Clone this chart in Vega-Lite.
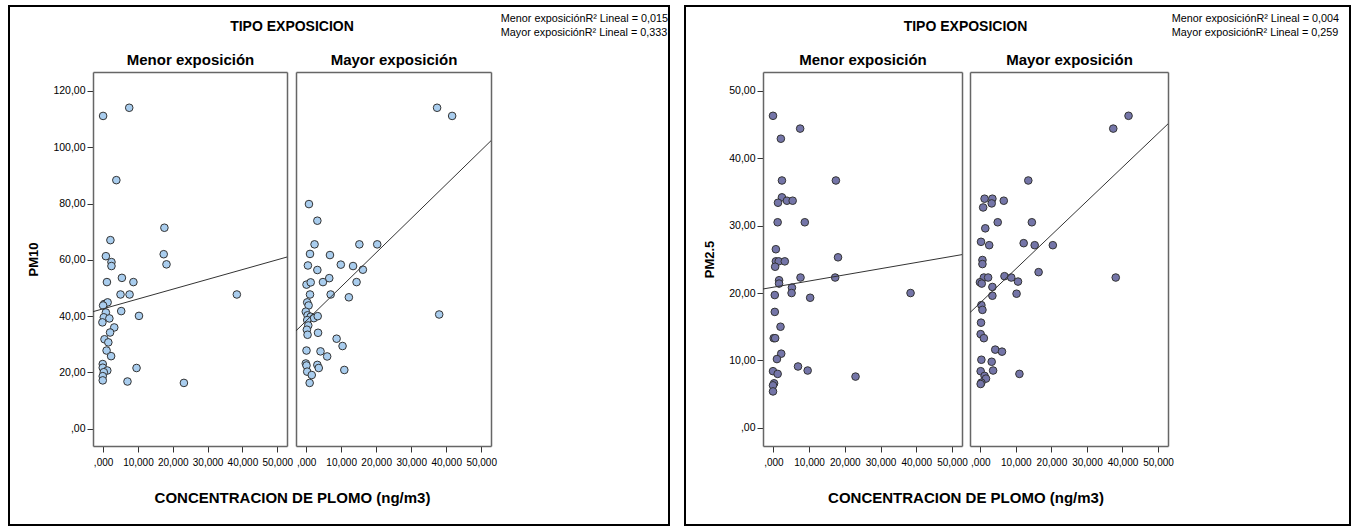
{
  "$schema": "https://vega.github.io/schema/vega-lite/v6.json",
  "padding": {"left": 8, "top": 5, "right": 0, "bottom": 0},
  "background": "white",
  "spacing": 14,
  "resolve": {"scale": {"color": "independent"}, "legend": {"color": "independent"}},
  "datasets": {
    "pm10": [
      {"grupo": "Menor exposición", "plomo": 0, "valor": 111.1},
      {"grupo": "Menor exposición", "plomo": 7.5, "valor": 114.0},
      {"grupo": "Menor exposición", "plomo": 3.8, "valor": 88.3},
      {"grupo": "Menor exposición", "plomo": 17.6, "valor": 71.4},
      {"grupo": "Menor exposición", "plomo": 2.1, "valor": 67.0},
      {"grupo": "Menor exposición", "plomo": 0.8, "valor": 61.3},
      {"grupo": "Menor exposición", "plomo": 2.4, "valor": 59.2},
      {"grupo": "Menor exposición", "plomo": 2.4, "valor": 57.8},
      {"grupo": "Menor exposición", "plomo": 17.4, "valor": 62.0},
      {"grupo": "Menor exposición", "plomo": 18.2, "valor": 58.4},
      {"grupo": "Menor exposición", "plomo": 1.1, "valor": 52.1},
      {"grupo": "Menor exposición", "plomo": 5.4, "valor": 53.6},
      {"grupo": "Menor exposición", "plomo": 8.7, "valor": 52.1},
      {"grupo": "Menor exposición", "plomo": 5.0, "valor": 47.7},
      {"grupo": "Menor exposición", "plomo": 7.6, "valor": 47.7},
      {"grupo": "Menor exposición", "plomo": 38.4, "valor": 47.7},
      {"grupo": "Menor exposición", "plomo": 0.3, "valor": 44.3},
      {"grupo": "Menor exposición", "plomo": 1.3, "valor": 44.9},
      {"grupo": "Menor exposición", "plomo": 0, "valor": 43.8},
      {"grupo": "Menor exposición", "plomo": 0.8, "valor": 41.3},
      {"grupo": "Menor exposición", "plomo": 5.2, "valor": 41.8},
      {"grupo": "Menor exposición", "plomo": 10.3, "valor": 40.1},
      {"grupo": "Menor exposición", "plomo": 0.2, "valor": 39.6},
      {"grupo": "Menor exposición", "plomo": 1.8, "valor": 39.2},
      {"grupo": "Menor exposición", "plomo": -0.2, "valor": 37.8},
      {"grupo": "Menor exposición", "plomo": 3.2, "valor": 36.0},
      {"grupo": "Menor exposición", "plomo": 2.0, "valor": 34.2},
      {"grupo": "Menor exposición", "plomo": 0.4, "valor": 31.8},
      {"grupo": "Menor exposición", "plomo": 1.5, "valor": 30.7},
      {"grupo": "Menor exposición", "plomo": 1.0, "valor": 27.8},
      {"grupo": "Menor exposición", "plomo": 2.3, "valor": 25.8},
      {"grupo": "Menor exposición", "plomo": -0.1, "valor": 23.0},
      {"grupo": "Menor exposición", "plomo": -0.1, "valor": 21.7},
      {"grupo": "Menor exposición", "plomo": 1.2, "valor": 20.7},
      {"grupo": "Menor exposición", "plomo": 0.2, "valor": 20.1},
      {"grupo": "Menor exposición", "plomo": -0.1, "valor": 18.7},
      {"grupo": "Menor exposición", "plomo": -0.1, "valor": 17.2},
      {"grupo": "Menor exposición", "plomo": 9.6, "valor": 21.6},
      {"grupo": "Menor exposición", "plomo": 7.0, "valor": 16.8},
      {"grupo": "Menor exposición", "plomo": 23.2, "valor": 16.3},
      {"grupo": "Mayor exposición", "plomo": 37.4, "valor": 114.0},
      {"grupo": "Mayor exposición", "plomo": 41.7, "valor": 111.1},
      {"grupo": "Mayor exposición", "plomo": 0.8, "valor": 79.8},
      {"grupo": "Mayor exposición", "plomo": 3.2, "valor": 73.9},
      {"grupo": "Mayor exposición", "plomo": 2.4, "valor": 65.5},
      {"grupo": "Mayor exposición", "plomo": 15.2, "valor": 65.5},
      {"grupo": "Mayor exposición", "plomo": 20.3, "valor": 65.5},
      {"grupo": "Mayor exposición", "plomo": 1.1, "valor": 62.1},
      {"grupo": "Mayor exposición", "plomo": 6.8, "valor": 61.7},
      {"grupo": "Mayor exposición", "plomo": 0.5, "valor": 58.0},
      {"grupo": "Mayor exposición", "plomo": 3.2, "valor": 56.4},
      {"grupo": "Mayor exposición", "plomo": 9.9, "valor": 58.3},
      {"grupo": "Mayor exposición", "plomo": 13.4, "valor": 57.8},
      {"grupo": "Mayor exposición", "plomo": 16.2, "valor": 56.5},
      {"grupo": "Mayor exposición", "plomo": 0.1, "valor": 51.2},
      {"grupo": "Mayor exposición", "plomo": 1.3, "valor": 52.0},
      {"grupo": "Mayor exposición", "plomo": 4.8, "valor": 52.1},
      {"grupo": "Mayor exposición", "plomo": 6.6, "valor": 53.5},
      {"grupo": "Mayor exposición", "plomo": 14.4, "valor": 52.1},
      {"grupo": "Mayor exposición", "plomo": 1.1, "valor": 47.7},
      {"grupo": "Mayor exposición", "plomo": 7.0, "valor": 47.7},
      {"grupo": "Mayor exposición", "plomo": 12.2, "valor": 46.7},
      {"grupo": "Mayor exposición", "plomo": 0.3, "valor": 44.9},
      {"grupo": "Mayor exposición", "plomo": 0.7, "valor": 43.8},
      {"grupo": "Mayor exposición", "plomo": -0.1, "valor": 41.6},
      {"grupo": "Mayor exposición", "plomo": 0.4, "valor": 40.3},
      {"grupo": "Mayor exposición", "plomo": 1.3, "valor": 39.8},
      {"grupo": "Mayor exposición", "plomo": 2.2, "valor": 39.3},
      {"grupo": "Mayor exposición", "plomo": 3.3, "valor": 40.0},
      {"grupo": "Mayor exposición", "plomo": 38.0, "valor": 40.6},
      {"grupo": "Mayor exposición", "plomo": 0.3, "valor": 38.6},
      {"grupo": "Mayor exposición", "plomo": 0.6, "valor": 36.7},
      {"grupo": "Mayor exposición", "plomo": 0.2, "valor": 35.2},
      {"grupo": "Mayor exposición", "plomo": 0.4, "valor": 33.4},
      {"grupo": "Mayor exposición", "plomo": 3.4, "valor": 34.1},
      {"grupo": "Mayor exposición", "plomo": 8.7, "valor": 32.0},
      {"grupo": "Mayor exposición", "plomo": 10.4, "valor": 29.4},
      {"grupo": "Mayor exposición", "plomo": 0.1, "valor": 27.8},
      {"grupo": "Mayor exposición", "plomo": 4.1, "valor": 27.5},
      {"grupo": "Mayor exposición", "plomo": 6.0, "valor": 25.7},
      {"grupo": "Mayor exposición", "plomo": -0.1, "valor": 23.2},
      {"grupo": "Mayor exposición", "plomo": 0.1, "valor": 22.5},
      {"grupo": "Mayor exposición", "plomo": 3.2, "valor": 22.7},
      {"grupo": "Mayor exposición", "plomo": 3.6, "valor": 21.6},
      {"grupo": "Mayor exposición", "plomo": 0.3, "valor": 20.3},
      {"grupo": "Mayor exposición", "plomo": 1.6, "valor": 19.1},
      {"grupo": "Mayor exposición", "plomo": 10.9, "valor": 20.9},
      {"grupo": "Mayor exposición", "plomo": 1.0, "valor": 16.3}
    ],
    "pm25": [
      {"grupo": "Menor exposición", "plomo": -0.1, "valor": 46.3},
      {"grupo": "Menor exposición", "plomo": 7.5, "valor": 44.4},
      {"grupo": "Menor exposición", "plomo": 2.1, "valor": 42.9},
      {"grupo": "Menor exposición", "plomo": 2.4, "valor": 36.7},
      {"grupo": "Menor exposición", "plomo": 17.5, "valor": 36.7},
      {"grupo": "Menor exposición", "plomo": 2.4, "valor": 34.2},
      {"grupo": "Menor exposición", "plomo": 1.3, "valor": 33.4},
      {"grupo": "Menor exposición", "plomo": 3.8, "valor": 33.7},
      {"grupo": "Menor exposición", "plomo": 5.4, "valor": 33.7},
      {"grupo": "Menor exposición", "plomo": 1.2, "valor": 30.5},
      {"grupo": "Menor exposición", "plomo": 8.8, "valor": 30.5},
      {"grupo": "Menor exposición", "plomo": 0.7, "valor": 26.5},
      {"grupo": "Menor exposición", "plomo": 0.7, "valor": 24.7},
      {"grupo": "Menor exposición", "plomo": 1.5, "valor": 24.7},
      {"grupo": "Menor exposición", "plomo": 3.2, "valor": 24.7},
      {"grupo": "Menor exposición", "plomo": 0.5, "valor": 23.9},
      {"grupo": "Menor exposición", "plomo": 18.1, "valor": 25.3},
      {"grupo": "Menor exposición", "plomo": 7.6, "valor": 22.3},
      {"grupo": "Menor exposición", "plomo": 17.3, "valor": 22.3},
      {"grupo": "Menor exposición", "plomo": 1.6, "valor": 21.9},
      {"grupo": "Menor exposición", "plomo": 1.6, "valor": 21.4},
      {"grupo": "Menor exposición", "plomo": 5.2, "valor": 20.8},
      {"grupo": "Menor exposición", "plomo": 5.1, "valor": 20.0},
      {"grupo": "Menor exposición", "plomo": 38.4, "valor": 20.0},
      {"grupo": "Menor exposición", "plomo": 0.4, "valor": 19.7},
      {"grupo": "Menor exposición", "plomo": 10.3, "valor": 19.3},
      {"grupo": "Menor exposición", "plomo": 0.4, "valor": 17.2},
      {"grupo": "Menor exposición", "plomo": 2.0, "valor": 15.0},
      {"grupo": "Menor exposición", "plomo": 0.1, "valor": 13.3},
      {"grupo": "Menor exposición", "plomo": 0.5, "valor": 13.3},
      {"grupo": "Menor exposición", "plomo": 2.2, "valor": 11.0},
      {"grupo": "Menor exposición", "plomo": 1.0, "valor": 10.2},
      {"grupo": "Menor exposición", "plomo": -0.1, "valor": 8.4},
      {"grupo": "Menor exposición", "plomo": 1.2, "valor": 8.0},
      {"grupo": "Menor exposición", "plomo": 6.9, "valor": 9.1},
      {"grupo": "Menor exposición", "plomo": 9.6, "valor": 8.5},
      {"grupo": "Menor exposición", "plomo": 23.0, "valor": 7.6},
      {"grupo": "Menor exposición", "plomo": 0.2, "valor": 6.6},
      {"grupo": "Menor exposición", "plomo": -0.1, "valor": 6.3},
      {"grupo": "Menor exposición", "plomo": -0.1, "valor": 5.4},
      {"grupo": "Mayor exposición", "plomo": 41.7, "valor": 46.3},
      {"grupo": "Mayor exposición", "plomo": 37.4, "valor": 44.4},
      {"grupo": "Mayor exposición", "plomo": 13.5, "valor": 36.7},
      {"grupo": "Mayor exposición", "plomo": 1.2, "valor": 34.0},
      {"grupo": "Mayor exposición", "plomo": 3.4, "valor": 34.0},
      {"grupo": "Mayor exposición", "plomo": 3.2, "valor": 33.3},
      {"grupo": "Mayor exposición", "plomo": 0.8, "valor": 32.7},
      {"grupo": "Mayor exposición", "plomo": 6.6, "valor": 33.7},
      {"grupo": "Mayor exposición", "plomo": 4.9, "valor": 30.5},
      {"grupo": "Mayor exposición", "plomo": 14.5, "valor": 30.5},
      {"grupo": "Mayor exposición", "plomo": 1.4, "valor": 29.6},
      {"grupo": "Mayor exposición", "plomo": 0.2, "valor": 27.6},
      {"grupo": "Mayor exposición", "plomo": 2.5, "valor": 27.1},
      {"grupo": "Mayor exposición", "plomo": 12.2, "valor": 27.4},
      {"grupo": "Mayor exposición", "plomo": 15.3, "valor": 27.1},
      {"grupo": "Mayor exposición", "plomo": 20.4, "valor": 27.1},
      {"grupo": "Mayor exposición", "plomo": 0.6, "valor": 24.9},
      {"grupo": "Mayor exposición", "plomo": 0.6, "valor": 24.3},
      {"grupo": "Mayor exposición", "plomo": 16.4, "valor": 23.1},
      {"grupo": "Mayor exposición", "plomo": 38.1, "valor": 22.3},
      {"grupo": "Mayor exposición", "plomo": 1.0, "valor": 22.3},
      {"grupo": "Mayor exposición", "plomo": 2.2, "valor": 22.3},
      {"grupo": "Mayor exposición", "plomo": 6.8, "valor": 22.5},
      {"grupo": "Mayor exposición", "plomo": 8.7, "valor": 22.3},
      {"grupo": "Mayor exposición", "plomo": 10.6, "valor": 21.7},
      {"grupo": "Mayor exposición", "plomo": -0.1, "valor": 21.6},
      {"grupo": "Mayor exposición", "plomo": 0.4, "valor": 21.4},
      {"grupo": "Mayor exposición", "plomo": 3.4, "valor": 20.9},
      {"grupo": "Mayor exposición", "plomo": 3.4, "valor": 19.6},
      {"grupo": "Mayor exposición", "plomo": 10.2, "valor": 19.9},
      {"grupo": "Mayor exposición", "plomo": 0.3, "valor": 18.2},
      {"grupo": "Mayor exposición", "plomo": 0.6, "valor": 17.5},
      {"grupo": "Mayor exposición", "plomo": 0.2, "valor": 15.6},
      {"grupo": "Mayor exposición", "plomo": 0.1, "valor": 13.9},
      {"grupo": "Mayor exposición", "plomo": 1.0, "valor": 13.3},
      {"grupo": "Mayor exposición", "plomo": 4.2, "valor": 11.6},
      {"grupo": "Mayor exposición", "plomo": 6.1, "valor": 11.3},
      {"grupo": "Mayor exposición", "plomo": 0.3, "valor": 10.1},
      {"grupo": "Mayor exposición", "plomo": 3.2, "valor": 9.8},
      {"grupo": "Mayor exposición", "plomo": 0.1, "valor": 8.4},
      {"grupo": "Mayor exposición", "plomo": 3.6, "valor": 8.5},
      {"grupo": "Mayor exposición", "plomo": 11.0, "valor": 8.0},
      {"grupo": "Mayor exposición", "plomo": 1.2, "valor": 7.7},
      {"grupo": "Mayor exposición", "plomo": 1.6, "valor": 7.3},
      {"grupo": "Mayor exposición", "plomo": 0.3, "valor": 6.7},
      {"grupo": "Mayor exposición", "plomo": 0.1, "valor": 6.5}
    ],
    "lineas_pm10": [
      {"grupo": "Menor exposición", "plomo": -2.9, "valor": 41.6},
      {"grupo": "Menor exposición", "plomo": 52.8, "valor": 61.0},
      {"grupo": "Mayor exposición", "plomo": -2.9, "valor": 34.8},
      {"grupo": "Mayor exposición", "plomo": 52.8, "valor": 102.3}
    ],
    "lineas_pm25": [
      {"grupo": "Menor exposición", "plomo": -2.9, "valor": 20.6},
      {"grupo": "Menor exposición", "plomo": 52.8, "valor": 25.7},
      {"grupo": "Mayor exposición", "plomo": -2.9, "valor": 17.1},
      {"grupo": "Mayor exposición", "plomo": 52.8, "valor": 45.1}
    ],
    "r2_pm10": [
      {"etiqueta": "Menor exposiciónR² Lineal = 0,015", "r2": 0.015},
      {"etiqueta": "Mayor exposiciónR² Lineal = 0,333", "r2": 0.333}
    ],
    "r2_pm25": [
      {"etiqueta": "Menor exposiciónR² Lineal = 0,004", "r2": 0.004},
      {"etiqueta": "Mayor exposiciónR² Lineal = 0,259", "r2": 0.259}
    ]
  },
  "hconcat": [
    {
      "width": 660,
      "height": 519,
      "view": {"stroke": "black", "strokeWidth": 2, "fill": "white"},
      "title": {"text": "TIPO EXPOSICION", "anchor": "middle", "frame": "group", "offset": -28, "dx": -47, "fontSize": 14, "font": "Liberation Sans", "fontWeight": "bold", "color": "black"},
      "resolve": {"scale": {"x": "independent", "y": "independent"}, "axis": {"x": "independent", "y": "independent"}},
      "layer": [
        {
          "data": {"name": "pm10"},
          "transform": [{"filter": "datum.grupo === 'Menor exposición'"}],
          "mark": {"type": "circle", "size": 58, "fill": "#a9cdee", "stroke": "#333333", "strokeWidth": 1, "opacity": 1},
          "encoding": {
            "x": {"field": "plomo", "type": "quantitative",
              "scale": {"domain": [-2.9, 52.8], "range": [84, 278], "nice": false, "zero": false},
              "axis": {"orient": "bottom", "offset": -79, "title": null, "values": [0, 10, 20, 30, 40, 50], "labelExpr": "datum.value === 0 ? ',000' : replace(format(datum.value, '.3f'), '.', ',')", "labelOverlap": false, "labelFlush": false, "labelBound": false, "tickSize": 6, "tickColor": "#333333", "domainColor": "#666666", "domainWidth": 1.5, "labelFontSize": 10, "labelPadding": 5}},
            "y": {"field": "valor", "type": "quantitative",
              "scale": {"domain": [-6.1, 126.7], "range": [440, 66], "nice": false, "zero": false},
              "axis": {"orient": "left", "offset": -84, "title": "PM10", "titleFontSize": 13, "titleFontWeight": "bold", "titlePadding": 12, "values": [0, 20, 40, 60, 80, 100, 120], "labelExpr": "datum.value === 0 ? ',00' : replace(format(datum.value, '.2f'), '.', ',')", "labelOverlap": false, "labelFlush": false, "labelBound": false, "tickSize": 6, "tickColor": "#333333", "domainColor": "#666666", "domainWidth": 1.5, "labelFontSize": 10.5, "labelPadding": 2}}
          }
        },
        {
          "data": {"name": "pm10"},
          "transform": [{"filter": "datum.grupo === 'Mayor exposición'"}],
          "mark": {"type": "circle", "size": 58, "fill": "#a9cdee", "stroke": "#333333", "strokeWidth": 1, "opacity": 1},
          "encoding": {
            "x": {"field": "plomo", "type": "quantitative",
              "scale": {"domain": [-2.9, 52.8], "range": [287, 482], "nice": false, "zero": false},
              "axis": {"orient": "bottom", "offset": -79, "title": null, "values": [0, 10, 20, 30, 40, 50], "labelExpr": "datum.value === 0 ? ',000' : replace(format(datum.value, '.3f'), '.', ',')", "labelOverlap": false, "labelFlush": false, "labelBound": false, "tickSize": 6, "tickColor": "#333333", "domainColor": "#666666", "domainWidth": 1.5, "labelFontSize": 10, "labelPadding": 5}},
            "y": {"field": "valor", "type": "quantitative",
              "scale": {"domain": [-6.1, 126.7], "range": [440, 66], "nice": false, "zero": false},
              "axis": {"orient": "left", "offset": -287, "title": null, "ticks": false, "labels": false, "domainColor": "#666666", "domainWidth": 1.5}}
          }
        },
        {
          "data": {"name": "lineas_pm10"},
          "transform": [{"filter": "datum.grupo === 'Menor exposición'"}],
          "mark": {"type": "line", "color": "#333333", "strokeWidth": 1},
          "encoding": {
            "x": {"field": "plomo", "type": "quantitative",
              "scale": {"domain": [-2.9, 52.8], "range": [84, 278], "nice": false, "zero": false},
              "axis": {"orient": "top", "offset": -66, "title": "Menor exposición", "titleFontSize": 15, "titleFontWeight": "bold", "titlePadding": 5, "ticks": false, "labels": false, "domainColor": "#666666", "domainWidth": 1.5}},
            "y": {"field": "valor", "type": "quantitative",
              "scale": {"domain": [-6.1, 126.7], "range": [440, 66], "nice": false, "zero": false},
              "axis": {"orient": "right", "offset": -382, "title": null, "ticks": false, "labels": false, "domainColor": "#666666", "domainWidth": 1.5}}
          }
        },
        {
          "data": {"name": "lineas_pm10"},
          "transform": [{"filter": "datum.grupo === 'Mayor exposición'"}],
          "mark": {"type": "line", "color": "#333333", "strokeWidth": 1},
          "encoding": {
            "x": {"field": "plomo", "type": "quantitative",
              "scale": {"domain": [-2.9, 52.8], "range": [287, 482], "nice": false, "zero": false},
              "axis": {"orient": "top", "offset": -66, "title": "Mayor exposición", "titleFontSize": 15, "titleFontWeight": "bold", "titlePadding": 5, "ticks": false, "labels": false, "domainColor": "#666666", "domainWidth": 1.5}},
            "y": {"field": "valor", "type": "quantitative",
              "scale": {"domain": [-6.1, 126.7], "range": [440, 66], "nice": false, "zero": false},
              "axis": {"orient": "right", "offset": -178, "title": null, "ticks": false, "labels": false, "domainColor": "#666666", "domainWidth": 1.5}}
          }
        },
        {
          "data": {"name": "r2_pm10"},
          "mark": {"type": "circle", "opacity": 0},
          "encoding": {
            "x": {"field": "r2", "type": "quantitative",
              "scale": {"domain": [0, 1], "range": [84, 482], "nice": false, "zero": false},
              "axis": {"orient": "bottom", "offset": -79, "title": "CONCENTRACION DE PLOMO (ng/m3)", "titleFontSize": 15, "titleFontWeight": "bold", "titlePadding": 44, "domain": false, "ticks": false, "labels": false}},
            "color": {"field": "etiqueta", "type": "nominal", "sort": null,
              "scale": {"range": ["#333333", "#333333"]},
              "legend": {"title": null, "orient": "none", "legendX": 481, "legendY": 8, "padding": 0, "labelFont": "Liberation Sans", "labelFontSize": 10.8, "labelColor": "black", "labelLimit": 0, "symbolSize": 0, "symbolOpacity": 0, "symbolStrokeWidth": 0, "labelOffset": 0, "rowPadding": 1.5}}
          }
        }
      ]
    },
    {
      "width": 665,
      "height": 519,
      "view": {"stroke": "black", "strokeWidth": 2, "fill": "white"},
      "title": {"text": "TIPO EXPOSICION", "anchor": "middle", "frame": "group", "offset": -28, "dx": -52, "fontSize": 14, "font": "Liberation Sans", "fontWeight": "bold", "color": "black"},
      "resolve": {"scale": {"x": "independent", "y": "independent"}, "axis": {"x": "independent", "y": "independent"}},
      "layer": [
        {
          "data": {"name": "pm25"},
          "transform": [{"filter": "datum.grupo === 'Menor exposición'"}],
          "mark": {"type": "circle", "size": 58, "fill": "#7475a8", "stroke": "#333333", "strokeWidth": 1, "opacity": 1},
          "encoding": {
            "x": {"field": "plomo", "type": "quantitative",
              "scale": {"domain": [-2.9, 52.8], "range": [78, 277], "nice": false, "zero": false},
              "axis": {"orient": "bottom", "offset": -79, "title": null, "values": [0, 10, 20, 30, 40, 50], "labelExpr": "datum.value === 0 ? ',000' : replace(format(datum.value, '.3f'), '.', ',')", "labelOverlap": false, "labelFlush": false, "labelBound": false, "tickSize": 6, "tickColor": "#333333", "domainColor": "#666666", "domainWidth": 1.5, "labelFontSize": 10, "labelPadding": 5}},
            "y": {"field": "valor", "type": "quantitative",
              "scale": {"domain": [-2.7, 52.8], "range": [440, 66], "nice": false, "zero": false},
              "axis": {"orient": "left", "offset": -78, "title": "PM2.5", "titleFontSize": 13, "titleFontWeight": "bold", "titlePadding": 12, "values": [0, 10, 20, 30, 40, 50], "labelExpr": "datum.value === 0 ? ',00' : replace(format(datum.value, '.2f'), '.', ',')", "labelOverlap": false, "labelFlush": false, "labelBound": false, "tickSize": 6, "tickColor": "#333333", "domainColor": "#666666", "domainWidth": 1.5, "labelFontSize": 10.5, "labelPadding": 2}}
          }
        },
        {
          "data": {"name": "pm25"},
          "transform": [{"filter": "datum.grupo === 'Mayor exposición'"}],
          "mark": {"type": "circle", "size": 58, "fill": "#7475a8", "stroke": "#333333", "strokeWidth": 1, "opacity": 1},
          "encoding": {
            "x": {"field": "plomo", "type": "quantitative",
              "scale": {"domain": [-2.9, 52.8], "range": [285, 483], "nice": false, "zero": false},
              "axis": {"orient": "bottom", "offset": -79, "title": null, "values": [0, 10, 20, 30, 40, 50], "labelExpr": "datum.value === 0 ? ',000' : replace(format(datum.value, '.3f'), '.', ',')", "labelOverlap": false, "labelFlush": false, "labelBound": false, "tickSize": 6, "tickColor": "#333333", "domainColor": "#666666", "domainWidth": 1.5, "labelFontSize": 10, "labelPadding": 5}},
            "y": {"field": "valor", "type": "quantitative",
              "scale": {"domain": [-2.7, 52.8], "range": [440, 66], "nice": false, "zero": false},
              "axis": {"orient": "left", "offset": -285, "title": null, "ticks": false, "labels": false, "domainColor": "#666666", "domainWidth": 1.5}}
          }
        },
        {
          "data": {"name": "lineas_pm25"},
          "transform": [{"filter": "datum.grupo === 'Menor exposición'"}],
          "mark": {"type": "line", "color": "#333333", "strokeWidth": 1},
          "encoding": {
            "x": {"field": "plomo", "type": "quantitative",
              "scale": {"domain": [-2.9, 52.8], "range": [78, 277], "nice": false, "zero": false},
              "axis": {"orient": "top", "offset": -66, "title": "Menor exposición", "titleFontSize": 15, "titleFontWeight": "bold", "titlePadding": 5, "ticks": false, "labels": false, "domainColor": "#666666", "domainWidth": 1.5}},
            "y": {"field": "valor", "type": "quantitative",
              "scale": {"domain": [-2.7, 52.8], "range": [440, 66], "nice": false, "zero": false},
              "axis": {"orient": "right", "offset": -388, "title": null, "ticks": false, "labels": false, "domainColor": "#666666", "domainWidth": 1.5}}
          }
        },
        {
          "data": {"name": "lineas_pm25"},
          "transform": [{"filter": "datum.grupo === 'Mayor exposición'"}],
          "mark": {"type": "line", "color": "#333333", "strokeWidth": 1},
          "encoding": {
            "x": {"field": "plomo", "type": "quantitative",
              "scale": {"domain": [-2.9, 52.8], "range": [285, 483], "nice": false, "zero": false},
              "axis": {"orient": "top", "offset": -66, "title": "Mayor exposición", "titleFontSize": 15, "titleFontWeight": "bold", "titlePadding": 5, "ticks": false, "labels": false, "domainColor": "#666666", "domainWidth": 1.5}},
            "y": {"field": "valor", "type": "quantitative",
              "scale": {"domain": [-2.7, 52.8], "range": [440, 66], "nice": false, "zero": false},
              "axis": {"orient": "right", "offset": -182, "title": null, "ticks": false, "labels": false, "domainColor": "#666666", "domainWidth": 1.5}}
          }
        },
        {
          "data": {"name": "r2_pm25"},
          "mark": {"type": "circle", "opacity": 0},
          "encoding": {
            "x": {"field": "r2", "type": "quantitative",
              "scale": {"domain": [0, 1], "range": [78, 483], "nice": false, "zero": false},
              "axis": {"orient": "bottom", "offset": -79, "title": "CONCENTRACION DE PLOMO (ng/m3)", "titleFontSize": 15, "titleFontWeight": "bold", "titlePadding": 44, "domain": false, "ticks": false, "labels": false}},
            "color": {"field": "etiqueta", "type": "nominal", "sort": null,
              "scale": {"range": ["#333333", "#333333"]},
              "legend": {"title": null, "orient": "none", "legendX": 476, "legendY": 8, "padding": 0, "labelFont": "Liberation Sans", "labelFontSize": 10.8, "labelColor": "black", "labelLimit": 0, "symbolSize": 0, "symbolOpacity": 0, "symbolStrokeWidth": 0, "labelOffset": 0, "rowPadding": 1.5}}
          }
        }
      ]
    }
  ],
  "config": {
    "font": "Liberation Sans",
    "axis": {"grid": false, "labelFont": "Liberation Sans", "titleFont": "Liberation Sans", "labelColor": "black", "titleColor": "black"},
    "legend": {"labelFont": "Liberation Sans"}
  }
}
